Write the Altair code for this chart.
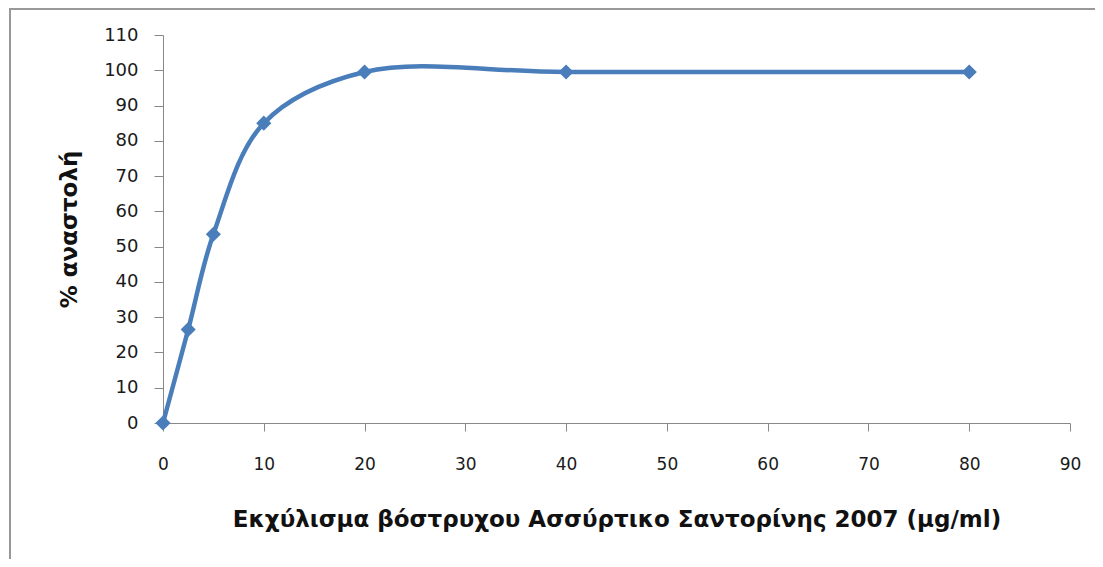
import altair as alt
import pandas as pd

conc = [0, 2.5, 5, 10, 20, 40, 80]
inhibition = [0, 26.5, 53.5, 85, 99.5, 99.5, 99.5]
x_ticks = [0, 10, 20, 30, 40, 50, 60, 70, 80, 90]
y_ticks = [0, 10, 20, 30, 40, 50, 60, 70, 80, 90, 100, 110]

df = pd.DataFrame({"x": conc, "y": inhibition})
FONT = "DejaVu Sans"
BLUE = "#4A7EBB"

xenc = alt.X("x:Q", scale=alt.Scale(domain=[0, 90], nice=False, zero=True),
             axis=alt.Axis(values=x_ticks, title="Εκχύλισμα βόστρυχου Ασσύρτικο Σαντορίνης 2007 (μg/ml)",
                           grid=False, domainColor="#888888", tickColor="#888888", tickSize=8,
                           labelFlush=False, labelOverlap=False,
                           labelFont=FONT, labelFontSize=17, labelColor="#1a1a1a", labelPadding=25,
                           titleFont=FONT, titleFontSize=23, titleFontWeight="bold", titleColor="#111111",
                           titlePadding=36))
yenc = alt.Y("y:Q", scale=alt.Scale(domain=[0, 110], nice=False),
             axis=alt.Axis(values=y_ticks, title="% αναστολή",
                           grid=False, domainColor="#888888", tickColor="#888888", tickSize=9,
                           labelFlush=False, labelOverlap=False,
                           labelFont=FONT, labelFontSize=18, labelColor="#1a1a1a", labelPadding=16,
                           titleFont=FONT, titleFontSize=23, titleFontWeight="bold", titleColor="#111111",
                           titlePadding=22))

line = alt.Chart(df).mark_line(interpolate="catmull-rom", color=BLUE, strokeWidth=4.5).encode(x=xenc, y=yenc)
pts = alt.Chart(df).mark_point(shape="diamond", filled=True, color=BLUE, size=230, opacity=1).encode(x=xenc, y=yenc)

border_left = alt.Chart(df).mark_rule(color="#999999", strokeWidth=1.5, clip=False).encode(
    x=alt.value(-153), y=alt.value(-27), y2=alt.value(600))
border_top = alt.Chart(df).mark_rule(color="#999999", strokeWidth=2, clip=False).encode(
    x=alt.value(-153), x2=alt.value(1000), y=alt.value(-26))

chart = alt.layer(border_left, border_top, line, pts).properties(
    width=907, height=388,
    padding={"left": 155, "top": 27, "right": 25, "bottom": 136},
    autosize=alt.AutoSizeParams(type="none"),
).configure_view(stroke=None)

chart.save("out.html", embed_options={"renderer": "svg", "actions": False})
